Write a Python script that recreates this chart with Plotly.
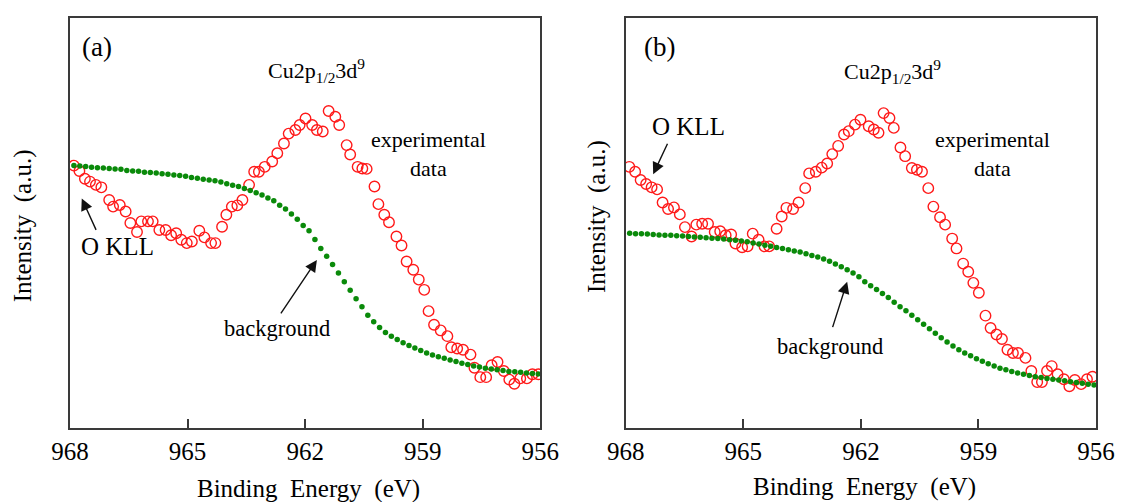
import plotly.graph_objects as go

# ---------------- data ----------------
# Panel (a) experimental data (binding energy eV, intensity a.u.)
Ea_exp = [967.90, 967.76, 967.62, 967.49, 967.34, 967.20, 967.00, 966.90, 966.73, 966.58,
          966.46, 966.29, 966.18, 966.01, 965.89, 965.72, 965.56, 965.42, 965.29, 965.16,
          965.02, 964.89, 964.70, 964.57, 964.40, 964.29, 964.12, 964.01, 963.87, 963.73,
          963.60, 963.43, 963.30, 963.18, 963.03, 962.84, 962.71, 962.54, 962.42, 962.25,
          962.14, 961.99, 961.82, 961.70, 961.55, 961.40, 961.23, 961.13, 960.94, 960.85,
          960.66, 960.54, 960.43, 960.23, 960.13, 959.98, 959.86, 959.67, 959.54, 959.41,
          959.24, 959.10, 958.96, 958.85, 958.71, 958.54, 958.37, 958.27, 958.12, 957.97,
          957.78, 957.68, 957.53, 957.38, 957.24, 957.09, 956.93, 956.79, 956.66, 956.51,
          956.34, 956.20, 956.05]
Ia_exp = [64.0, 62.7, 60.8, 60.1, 59.3, 58.7, 55.6, 54.0, 54.4, 52.8,
          50.0, 47.8, 50.4, 50.4, 50.4, 48.3, 48.3, 47.0, 47.5, 45.9,
          45.1, 45.5, 48.1, 46.5, 45.1, 45.1, 49.1, 52.0, 54.0, 54.3,
          55.6, 59.3, 62.5, 62.5, 63.7, 65.0, 67.0, 69.4, 71.8, 72.7,
          73.9, 75.5, 73.9, 72.7, 72.3, 77.3, 75.9, 73.9, 69.0, 66.7,
          63.7, 63.3, 63.2, 58.9, 54.6, 52.0, 50.2, 46.7, 44.5, 40.6,
          38.6, 36.2, 33.7, 28.5, 25.2, 23.8, 22.4, 19.7, 19.4, 19.1,
          17.9, 14.7, 12.4, 12.4, 15.3, 16.1, 13.9, 11.8, 10.8, 12.1,
          12.1, 13.1, 13.1]

# Panel (b) experimental data
Eb_exp = [967.91, 967.76, 967.62, 967.48, 967.34, 967.20, 967.06, 966.92, 966.77, 966.62,
          966.49, 966.32, 966.20, 966.05, 965.90, 965.73, 965.59, 965.45, 965.31, 965.20,
          965.03, 964.89, 964.76, 964.61, 964.46, 964.34, 964.15, 964.02, 963.90, 963.73,
          963.59, 963.42, 963.32, 963.15, 963.00, 962.86, 962.73, 962.58, 962.43, 962.31,
          962.15, 962.01, 961.80, 961.67, 961.55, 961.42, 961.27, 961.16, 960.99, 960.87,
          960.70, 960.57, 960.44, 960.28, 960.15, 959.98, 959.85, 959.67, 959.56, 959.39,
          959.26, 959.13, 958.99, 958.82, 958.69, 958.54, 958.40, 958.26, 958.12, 957.99,
          957.80, 957.65, 957.50, 957.38, 957.25, 957.13, 956.98, 956.82, 956.68, 956.54,
          956.38, 956.23, 956.09]
Ib_exp = [63.7, 62.5, 60.5, 59.5, 58.7, 58.2, 55.0, 53.4, 53.8, 52.1,
          49.0, 46.7, 49.6, 49.8, 49.8, 47.8, 48.0, 47.0, 47.2, 45.0,
          44.1, 44.3, 47.4, 45.9, 44.3, 44.3, 48.6, 51.6, 53.7, 53.4,
          55.0, 58.5, 62.1, 62.5, 63.5, 64.5, 66.8, 68.8, 71.6, 72.4,
          74.0, 75.2, 73.6, 72.8, 72.0, 76.8, 75.6, 73.2, 68.4, 66.3,
          63.4, 63.0, 62.5, 58.5, 54.0, 51.4, 49.6, 46.2, 43.8, 40.1,
          38.1, 35.4, 33.0, 27.4, 24.4, 22.8, 21.7, 19.1, 18.3, 18.3,
          17.1, 13.9, 11.2, 11.2, 13.9, 15.1, 13.1, 11.9, 10.2, 11.7,
          10.7, 11.9, 12.5]

# Background curves (shared energy grid)
E_bg = [967.90, 967.75, 967.60, 967.45, 967.30, 967.15, 967.00, 966.85, 966.70, 966.55,
        966.40, 966.25, 966.10, 965.95, 965.80, 965.65, 965.50, 965.35, 965.20, 965.05,
        964.90, 964.75, 964.60, 964.45, 964.30, 964.15, 964.00, 963.85, 963.70, 963.55,
        963.40, 963.25, 963.10, 962.95, 962.80, 962.65, 962.50, 962.35, 962.20, 962.05,
        961.90, 961.75, 961.60, 961.45, 961.30, 961.15, 961.00, 960.85, 960.70, 960.55,
        960.40, 960.25, 960.10, 959.95, 959.80, 959.65, 959.50, 959.35, 959.20, 959.05,
        958.90, 958.75, 958.60, 958.45, 958.30, 958.15, 958.00, 957.85, 957.70, 957.55,
        957.40, 957.25, 957.10, 956.95, 956.80, 956.65, 956.50, 956.35, 956.20, 956.05]
Ia_bg = [64.0, 63.9, 63.8, 63.6, 63.5, 63.4, 63.3, 63.2, 63.1, 62.8,
         62.7, 62.6, 62.4, 62.3, 62.2, 62.0, 61.9, 61.7, 61.6, 61.4,
         61.1, 60.9, 60.7, 60.5, 60.3, 60.0, 59.6, 59.2, 58.9, 58.4,
         57.9, 57.4, 56.8, 56.1, 55.4, 54.3, 53.4, 52.2, 50.9, 49.4,
         48.1, 46.0, 43.8, 41.9, 39.9, 37.8, 35.7, 33.6, 31.5, 29.6,
         27.5, 25.9, 24.5, 23.3, 22.4, 21.6, 20.8, 20.1, 19.5, 18.9,
         18.3, 17.8, 17.4, 17.0, 16.6, 16.2, 15.8, 15.5, 15.1, 14.9,
         14.6, 14.4, 14.2, 14.0, 13.8, 13.7, 13.6, 13.4, 13.3, 13.2]
Ib_bg = [47.5, 47.4, 47.4, 47.3, 47.2, 47.1, 47.0, 47.0, 46.9, 46.8,
         46.7, 46.6, 46.5, 46.4, 46.3, 46.2, 46.1, 45.9, 45.8, 45.6,
         45.4, 45.1, 44.9, 44.6, 44.3, 44.0, 43.8, 43.5, 43.2, 42.9,
         42.5, 42.1, 41.7, 41.2, 40.7, 40.0, 39.3, 38.6, 37.8, 36.9,
         35.7, 34.7, 33.8, 32.8, 31.8, 30.7, 29.6, 28.6, 27.5, 26.4,
         25.3, 24.2, 23.1, 22.0, 21.0, 20.0, 19.1, 18.3, 17.6, 16.9,
         16.3, 15.7, 15.1, 14.6, 14.2, 13.8, 13.4, 13.1, 12.8, 12.5,
         12.3, 12.1, 11.9, 11.7, 11.5, 11.3, 11.1, 10.9, 10.7, 10.5]

x_ticks = [968, 965, 962, 959, 956]
x_ticktext = ["968", "965", "962", "959", "956"]

# ---------------- styling ----------------
SERIF = "Liberation Serif, Times New Roman, serif"
RED = "#ff1a1a"
GREEN = "#0a8a0a"
FRAME = "#3a3a3a"

fig = go.Figure()

def add_panel(E_exp, I_exp, I_bg, xa, ya):
    fig.add_trace(go.Scatter(x=E_exp, y=I_exp, mode="markers", xaxis=xa, yaxis=ya,
                             marker=dict(symbol="circle-open", size=10.5, color=RED,
                                         line=dict(color=RED, width=1.4)),
                             showlegend=False, hoverinfo="skip"))
    fig.add_trace(go.Scatter(x=E_bg, y=I_bg, mode="markers", xaxis=xa, yaxis=ya,
                             marker=dict(symbol="circle", size=5.5, color=GREEN),
                             showlegend=False, hoverinfo="skip"))

add_panel(Ea_exp, Ia_exp, Ia_bg, "x", "y")
add_panel(Eb_exp, Ib_exp, Ib_bg, "x2", "y2")

xcommon = dict(range=[968, 956], tickvals=x_ticks, ticktext=x_ticktext,
               ticks="inside", ticklen=9, tickwidth=1.5, tickcolor=FRAME,
               showline=True, mirror=True, linecolor=FRAME, linewidth=1.5,
               showgrid=False, zeroline=False,
               tickfont=dict(family=SERIF, size=25, color="black"))
ycommon = dict(range=[0, 100], showticklabels=False, ticks="",
               showline=True, mirror=True, linecolor=FRAME, linewidth=1.5,
               showgrid=False, zeroline=False)

# the page places the figure 8 px in from the top-left corner
OFF = 8
W, H = 1123 - OFF, 502 - OFF
ml, mr, mt, mb = 70 - OFF, 21, 16 - OFF, 74
pw = W - ml - mr
dom_a = [0, 473 / pw]
dom_b = [559 / pw, 1]

fig.update_layout(
    width=W, height=H,
    margin=dict(l=ml, r=mr, t=mt, b=mb),
    paper_bgcolor="white", plot_bgcolor="white",
    xaxis=dict(domain=dom_a, anchor="y", **xcommon),
    yaxis=dict(domain=[0, 1], anchor="x", **ycommon),
    xaxis2=dict(domain=dom_b, anchor="y2", **xcommon),
    yaxis2=dict(domain=[0, 1], anchor="x2", **ycommon),
)

def txt(text, x, y, xref, yref, size, **kw):
    fig.add_annotation(text=text, x=x, y=y, xref=xref, yref=yref, showarrow=False,
                       font=dict(family=SERIF, size=size, color="black"),
                       xanchor="center", yanchor="middle", **kw)

def arrow(x, y, ax, ay, xref, yref):
    fig.add_annotation(text="", x=x, y=y, ax=ax, ay=ay, xref=xref, yref=yref,
                       showarrow=True, arrowhead=2, arrowsize=1.7, arrowwidth=1.4,
                       arrowcolor="#111111", standoff=0)

title_html = "Cu2p<sub>1/2</sub>3d<sup>9</sup>"

# panel (a)
txt("(a)", 967.31, 92.9, "x", "y", 27)
txt(title_html, 961.71, 87.3, "x", "y", 22)
txt("experimental<br>data", 958.86, 66.9, "x", "y", 22)
txt("O KLL", 966.78, 44.3, "x", "y", 25)
txt("background", 962.72, 24.3, "x", "y", 22.5)
arrow(967.70, 56.0, 15, 33, "x", "y")
arrow(961.70, 41.0, -37, 55, "x", "y")

# panel (b)
txt("(b)", 967.14, 93.0, "x2", "y2", 27)
txt(title_html, 961.20, 86.9, "x2", "y2", 22)
txt("experimental<br>data", 958.63, 66.8, "x2", "y2", 22)
txt("O KLL", 966.40, 73.6, "x2", "y2", 25)
txt("background", 962.80, 19.9, "x2", "y2", 22.5)
arrow(967.30, 61.9, 15, -32, "x2", "y2")
arrow(962.35, 35.7, -15, 47, "x2", "y2")

# axis titles (positioned in paper coords, from screen pixels)
def px_to_paper_x(px):
    return (px - OFF - ml) / pw

def py_to_paper_y(py):
    return (502 - mb - py) / (H - mt - mb)

xt = "Binding\u00a0 Energy\u00a0 (eV)"
yt = "Intensity\u00a0 (a.u.)"
txt(xt, px_to_paper_x(310), py_to_paper_y(489), "paper", "paper", 25)
txt(xt, px_to_paper_x(869), py_to_paper_y(487), "paper", "paper", 25)
txt(yt, px_to_paper_x(23), py_to_paper_y(225), "paper", "paper", 25, textangle=-90)
txt(yt, px_to_paper_x(600), py_to_paper_y(215), "paper", "paper", 25, textangle=-90)

fig.write_html("out.html")
